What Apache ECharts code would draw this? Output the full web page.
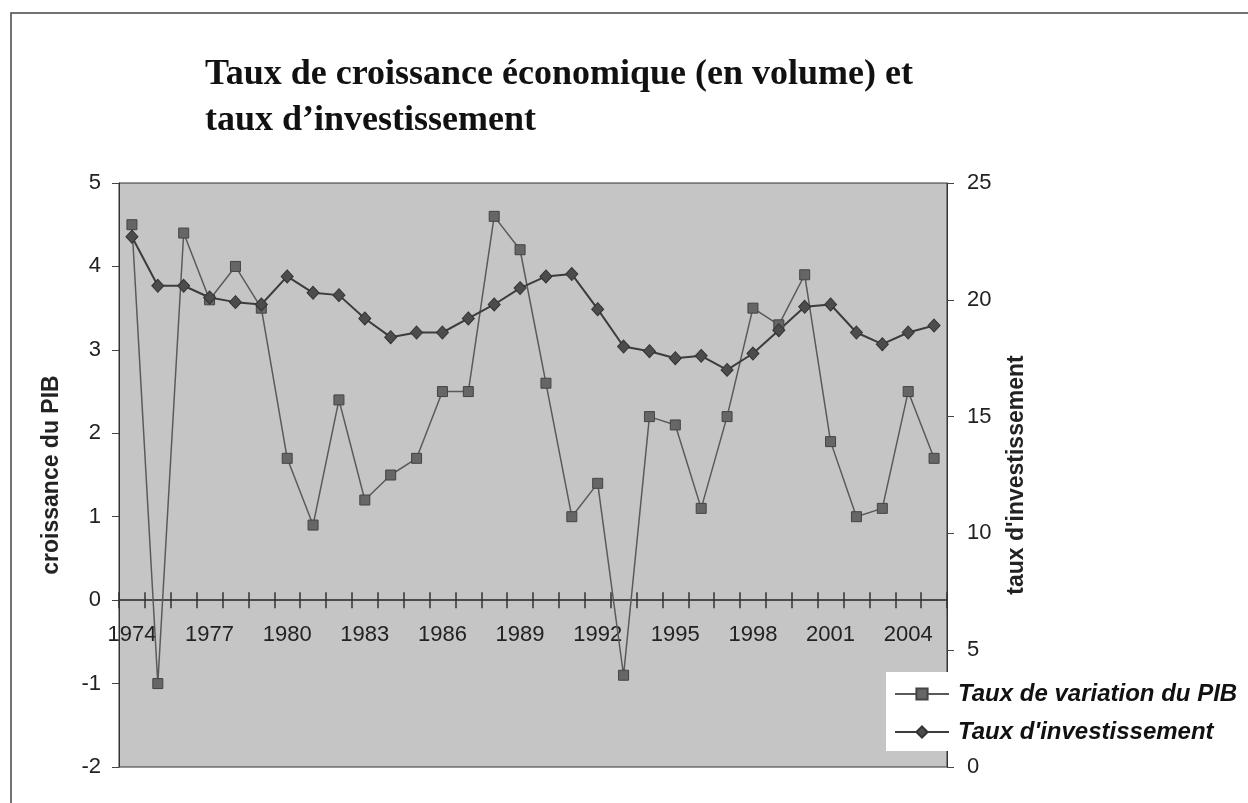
<!DOCTYPE html>
<html>
<head>
<meta charset="utf-8">
<script src="https://cdn.jsdelivr.net/npm/echarts@6/dist/echarts.min.js"></script>
<style>
  html, body { margin: 0; padding: 0; background: #fff; }
  #main { width: 1248px; height: 803px; }
</style>
</head>
<body>
<div id="main"></div>
<script>
    // données
    var years = ['1974','1975','1976','1977','1978','1979','1980','1981','1982','1983',
        '1984','1985','1986','1987','1988','1989','1990','1991','1992','1993',
        '1994','1995','1996','1997','1998','1999','2000','2001','2002','2003','2004','2005'];
    var pib = [4.5, -1.0, 4.4, 3.6, 4.0, 3.5, 1.7, 0.9, 2.4, 1.2,
        1.5, 1.7, 2.5, 2.5, 4.6, 4.2, 2.6, 1.0, 1.4, -0.9,
        2.2, 2.1, 1.1, 2.2, 3.5, 3.3, 3.9, 1.9, 1.0, 1.1, 2.5, 1.7];
    var invest = [22.7, 20.6, 20.6, 20.1, 19.9, 19.8, 21.0, 20.3, 20.2, 19.2,
        18.4, 18.6, 18.6, 19.2, 19.8, 20.5, 21.0, 21.1, 19.6, 18.0,
        17.8, 17.5, 17.6, 17.0, 17.7, 18.7, 19.7, 19.8, 18.6, 18.1, 18.6, 18.9];
    var leftTicks = [-2, 5, 1];    // min, max, pas
    var rightTicks = [0, 25, 5];

    var myChart = echarts.init(document.getElementById('main'));
    var sans = 'Liberation Sans, Arial, sans-serif';
    var gridTop = 183, gridBottom = 36;
    var plotH = 803 - gridTop - gridBottom;
    // l'axe des années passe par le zéro de l'axe de gauche
    var zeroShift = -plotH * (0 - leftTicks[0]) / (leftTicks[1] - leftTicks[0]);

    var option = {
        animation: false,
        title: {
            text: 'Taux de croissance économique (en volume) et\ntaux d\u2019investissement',
            left: 205,
            top: 52,
            padding: 0,
            textStyle: {
                fontFamily: 'Liberation Serif, Times New Roman, serif',
                fontWeight: 'bold',
                fontSize: 36,
                lineHeight: 46,
                color: '#111'
            }
        },
        grid: {
            left: 119, top: gridTop, right: 301, bottom: gridBottom,
            show: true,
            backgroundColor: '#c5c5c5',
            borderColor: '#333',
            borderWidth: 1
        },
        legend: {
            orient: 'vertical',
            left: 886,
            top: 672,
            width: 362,
            padding: [10, 20, 7, 8],
            backgroundColor: '#fff',
            itemWidth: 54,
            itemHeight: 14,
            itemGap: 14,
            textStyle: {
                fontFamily: sans,
                fontStyle: 'italic',
                fontWeight: 'bold',
                fontSize: 24,
                color: '#111',
                padding: [0, 0, 0, 4]
            },
            data: ['Taux de variation du PIB', "Taux d'investissement"]
        },
        xAxis: [{
            type: 'category',
            position: 'bottom',
            data: years,
            boundaryGap: true,
            offset: zeroShift,
            axisLine: { onZero: false, lineStyle: { color: '#444', width: 1.5 } },
            axisTick: { show: true, interval: 0, length: 8, lineStyle: { color: '#333', width: 1.5 } },
            axisLabel: { interval: 2, margin: 24, fontFamily: sans, fontSize: 22, color: '#222' },
            splitLine: { show: false }
        }, {
            // petits traits au-dessus de l'axe
            type: 'category',
            position: 'bottom',
            data: years,
            boundaryGap: true,
            offset: zeroShift,
            axisLine: { onZero: false, lineStyle: { color: '#444', width: 1.5 } },
            axisTick: { show: true, interval: 0, inside: true, length: 8, lineStyle: { color: '#333', width: 1.5 } },
            axisLabel: { show: false },
            splitLine: { show: false }
        }],
        yAxis: [{
            type: 'value',
            position: 'left',
            min: leftTicks[0], max: leftTicks[1], interval: leftTicks[2],
            name: 'croissance du PIB',
            nameLocation: 'middle',
            nameGap: 56,
            nameTextStyle: { fontFamily: sans, fontWeight: 'bold', fontSize: 23, color: '#222' },
            axisLine: { show: true, lineStyle: { color: '#333' } },
            axisTick: { show: true, length: 7, lineStyle: { color: '#444' } },
            axisLabel: { margin: 18, fontFamily: sans, fontSize: 22, color: '#222' },
            splitLine: { show: false }
        }, {
            type: 'value',
            position: 'right',
            min: rightTicks[0], max: rightTicks[1], interval: rightTicks[2],
            name: "taux d'investissement",
            nameLocation: 'middle',
            nameGap: 58,
            nameTextStyle: { fontFamily: sans, fontWeight: 'bold', fontSize: 23, color: '#222' },
            axisLine: { show: true, lineStyle: { color: '#333' } },
            axisTick: { show: true, length: 7, lineStyle: { color: '#444' } },
            axisLabel: { margin: 20, fontFamily: sans, fontSize: 22, color: '#222' },
            splitLine: { show: false }
        }],
        series: [{
            name: 'Taux de variation du PIB',
            type: 'line',
            xAxisIndex: 0,
            yAxisIndex: 0,
            data: pib,
            symbol: 'rect',
            symbolSize: 10,
            lineStyle: { color: '#5a5a5a', width: 1.5 },
            itemStyle: { color: '#666', borderColor: '#444', borderWidth: 1 }
        }, {
            name: "Taux d'investissement",
            type: 'line',
            xAxisIndex: 0,
            yAxisIndex: 1,
            data: invest,
            symbol: 'diamond',
            symbolSize: [12, 13],
            lineStyle: { color: '#3c3c3c', width: 2 },
            itemStyle: { color: '#4c4c4c', borderColor: '#333', borderWidth: 1 }
        }],
        graphic: [{
            type: 'polyline',
            shape: { points: [[11, 803], [11, 13], [1248, 13]] },
            style: { stroke: '#444', lineWidth: 1.5, fill: null },
            silent: true
        }]
    };

    myChart.setOption(option);
</script>
</body>
</html>
